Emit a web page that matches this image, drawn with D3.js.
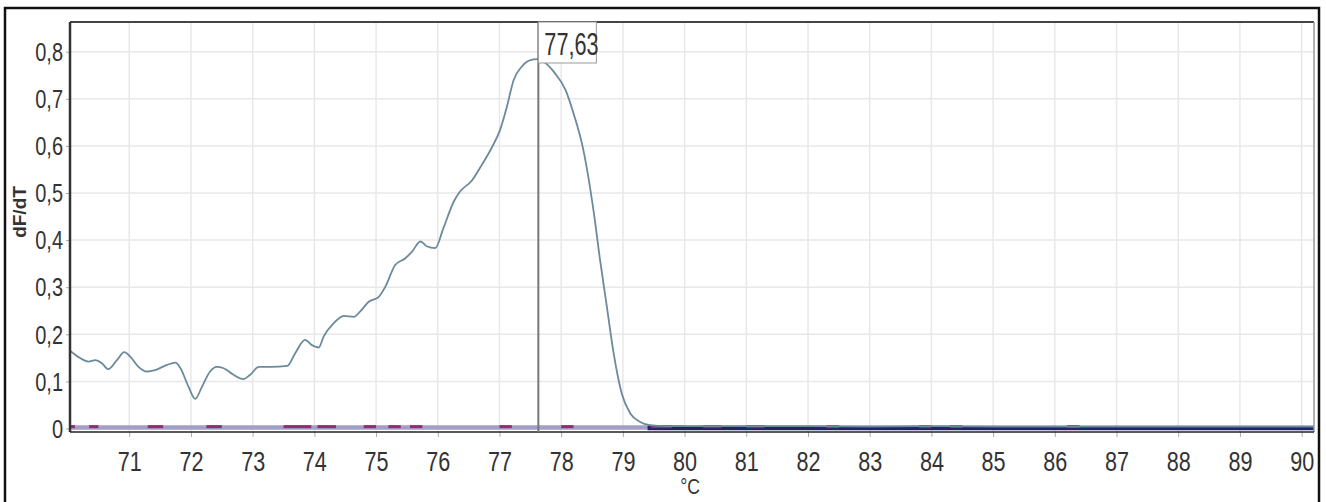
<!DOCTYPE html>
<html>
<head>
<meta charset="utf-8">
<script src="https://cdn.jsdelivr.net/npm/d3@7"></script>
<style>
  body { margin: 0; background: #fff; }
  svg { display: block; }
</style>
</head>
<body>
<div id="chart-container"></div>
<script>
// melt curve
const tempC = [70.04, 70.21, 70.34, 70.45, 70.56, 70.66, 70.80, 70.92, 71.02, 71.15, 71.29, 71.42,
  71.61, 71.75, 71.83, 71.96, 72.07, 72.18, 72.31, 72.42, 72.53, 72.69, 72.85, 72.96, 73.10,
  73.29, 73.56, 73.69, 73.85, 73.96, 74.07, 74.15, 74.31, 74.48, 74.64, 74.74, 74.88, 75.04,
  75.15, 75.31, 75.47, 75.58, 75.72, 75.82, 75.96, 76.09, 76.26, 76.36, 76.55, 76.71, 76.87,
  77.01, 77.12, 77.23, 77.36, 77.50, 77.61, 77.71, 77.90, 78.07, 78.20, 78.36, 78.53, 78.63,
  78.74, 78.85, 78.98, 79.12, 79.28, 79.44, 79.7, 80.0, 81.0, 82.0, 83.0, 84.0, 85.0, 86.0,
  87.0, 88.0, 89.0, 90.2];
const dFdT = [0.165, 0.149, 0.142, 0.145, 0.138, 0.126, 0.145, 0.162, 0.152, 0.131, 0.121, 0.124,
  0.135, 0.140, 0.128, 0.089, 0.063, 0.089, 0.121, 0.131, 0.128, 0.114, 0.105, 0.114, 0.131,
  0.131, 0.133, 0.160, 0.188, 0.177, 0.172, 0.195, 0.223, 0.239, 0.237, 0.248, 0.269, 0.279,
  0.301, 0.347, 0.361, 0.375, 0.397, 0.387, 0.383, 0.425, 0.482, 0.503, 0.526, 0.559, 0.595,
  0.634, 0.683, 0.740, 0.768, 0.782, 0.784, 0.779, 0.754, 0.719, 0.669, 0.591, 0.457, 0.358,
  0.259, 0.160, 0.075, 0.032, 0.014, 0.007, 0.005, 0.005, 0.005, 0.005, 0.004, 0.005, 0.004,
  0.004, 0.004, 0.004, 0.004, 0.004];

// flat traces near zero (other wells)
const lavenderTrace = [[70.04, 0.002], [80.0, 0.002]];
const navyTrace = [[79.4, 0.001], [90.2, 0.001]];
const magentaDashes = [[70.05, 70.12], [70.35, 70.5], [71.3, 71.55], [72.25, 72.5], [73.5, 73.95],
  [74.05, 74.35], [74.8, 75.0], [75.2, 75.4], [75.55, 75.75], [77.0, 77.2], [78.0, 78.2],
  [79.45, 79.8], [80.3, 80.6], [81.0, 81.3], [82.3, 82.5], [83.8, 84.0], [84.3, 84.5], [86.2, 86.4]];

const markerTemp = 77.63;
const markerLabel = "77,63";

const xTicks = d3.range(71, 91);
const yTicks = [0, 0.1, 0.2, 0.3, 0.4, 0.5, 0.6, 0.7, 0.8];
const xTitle = "°C";
const yTitle = "dF/dT";

const W = 1326, H = 502;
const plot = { left: 70, right: 1314, top: 22, bottom: 432 };

const svg = d3.select("#chart-container")
    .append("svg")
    .attr("width", W)
    .attr("height", H);

const x = d3.scaleLinear().domain([70.04, 90.2]).range([plot.left, plot.right]);
const y = d3.scaleLinear().domain([-0.0074, 0.863]).range([plot.bottom, plot.top]);

const commaFmt = d => d === 0 ? "0" : d3.format(".1f")(d).replace(".", ",");

// outer frame
svg.append("rect")
    .attr("x", 5).attr("y", 8)
    .attr("width", 1314).attr("height", 510)
    .attr("fill", "none")
    .attr("stroke", "#111")
    .attr("stroke-width", 2.5);

// gridlines
svg.append("g")
    .selectAll("line")
    .data(xTicks)
    .join("line")
    .attr("x1", d => x(d)).attr("x2", d => x(d))
    .attr("y1", plot.top).attr("y2", plot.bottom)
    .attr("stroke", "#e8e8e8")
    .attr("stroke-width", 1.5);

svg.append("g")
    .selectAll("line")
    .data(yTicks)
    .join("line")
    .attr("x1", plot.left).attr("x2", plot.right)
    .attr("y1", d => y(d)).attr("y2", d => y(d))
    .attr("stroke", "#e8e8e8")
    .attr("stroke-width", 1.5);

// X axis
const xAxis = svg.append("g")
    .attr("transform", `translate(0,${plot.bottom})`)
    .call(d3.axisBottom(x).tickValues(xTicks).tickSize(5).tickSizeOuter(0).tickFormat(d3.format("d")));
xAxis.select(".domain").remove();
xAxis.selectAll(".tick line").attr("stroke", "#aaa");
xAxis.selectAll(".tick text")
    .attr("y", 39)
    .attr("dy", 0)
    .attr("transform", "scale(0.8,1)")
    .style("font-family", "'Liberation Sans', Arial, sans-serif")
    .style("font-size", "27px")
    .attr("fill", "#333");

// Y axis
const yAxis = svg.append("g")
    .attr("transform", `translate(${plot.left},0)`)
    .call(d3.axisLeft(y).tickValues(yTicks).tickSize(4).tickSizeOuter(0).tickFormat(commaFmt));
yAxis.select(".domain").remove();
yAxis.selectAll(".tick line").attr("stroke", "#aaa");
yAxis.selectAll(".tick text")
    .attr("x", -7 / 0.8)
    .attr("dy", "0.35em")
    .attr("transform", "scale(0.8,1)")
    .style("font-family", "'Liberation Sans', Arial, sans-serif")
    .style("font-size", "25px")
    .attr("fill", "#333");

// near-zero traces
const line = d3.line().x(d => x(d[0])).y(d => y(d[1]));

svg.append("path")
    .datum(lavenderTrace)
    .attr("fill", "none")
    .attr("stroke", "#a29ec8")
    .attr("stroke-width", 4.5)
    .attr("d", line);

svg.append("path")
    .datum(navyTrace)
    .attr("fill", "none")
    .attr("stroke", "#1f2466")
    .attr("stroke-width", 4.5)
    .attr("d", line);

svg.append("g")
    .selectAll("line")
    .data(magentaDashes)
    .join("line")
    .attr("x1", d => x(d[0])).attr("x2", d => x(d[1]))
    .attr("y1", y(0.004)).attr("y2", y(0.004))
    .attr("stroke", "#8e2f6e")
    .attr("stroke-width", 3);

// main melt curve
const meltLine = d3.line()
    .x(d => x(d.t))
    .y(d => y(d.v))
    .curve(d3.curveMonotoneX);

svg.append("path")
    .datum(tempC.map((t, i) => ({ t: t, v: dFdT[i] })))
    .attr("fill", "none")
    .attr("stroke", "#6b8a9b")
    .attr("stroke-width", 1.8)
    .attr("d", meltLine);

// plot frame
svg.append("line")
    .attr("x1", plot.left).attr("x2", plot.right)
    .attr("y1", plot.top).attr("y2", plot.top)
    .attr("stroke", "#444").attr("stroke-width", 2);
svg.append("line")
    .attr("x1", plot.left).attr("x2", plot.left)
    .attr("y1", plot.top).attr("y2", plot.bottom)
    .attr("stroke", "#333").attr("stroke-width", 2.5);
svg.append("line")
    .attr("x1", plot.right).attr("x2", plot.right)
    .attr("y1", plot.top).attr("y2", plot.bottom)
    .attr("stroke", "#999").attr("stroke-width", 1.5);
svg.append("line")
    .attr("x1", plot.left).attr("x2", plot.right)
    .attr("y1", plot.bottom).attr("y2", plot.bottom)
    .attr("stroke", "#222").attr("stroke-width", 1.5);

// peak marker
svg.append("line")
    .attr("x1", x(markerTemp)).attr("x2", x(markerTemp))
    .attr("y1", plot.top).attr("y2", plot.bottom)
    .attr("stroke", "#777")
    .attr("stroke-width", 2);

svg.append("rect")
    .attr("x", x(markerTemp))
    .attr("y", plot.top)
    .attr("width", 58)
    .attr("height", 41)
    .attr("fill", "#fff")
    .attr("stroke", "#999")
    .attr("stroke-width", 1);

svg.append("text")
    .attr("transform", `translate(${x(markerTemp) + 6},55) scale(0.7,1)`)
    .style("font-family", "'Liberation Sans', Arial, sans-serif")
    .style("font-size", "31px")
    .attr("fill", "#333")
    .text(markerLabel);

// axis titles
svg.append("text")
    .attr("transform", "translate(26,212) rotate(-90)")
    .attr("text-anchor", "middle")
    .style("font-family", "'Liberation Sans', Arial, sans-serif")
    .style("font-size", "19px")
    .style("font-weight", "bold")
    .attr("fill", "#333")
    .text(yTitle);

svg.append("text")
    .attr("transform", "translate(690,494) scale(0.8,1)")
    .attr("text-anchor", "middle")
    .style("font-family", "'Liberation Sans', Arial, sans-serif")
    .style("font-size", "22px")
    .attr("fill", "#333")
    .text(xTitle);
</script>
</body>
</html>
